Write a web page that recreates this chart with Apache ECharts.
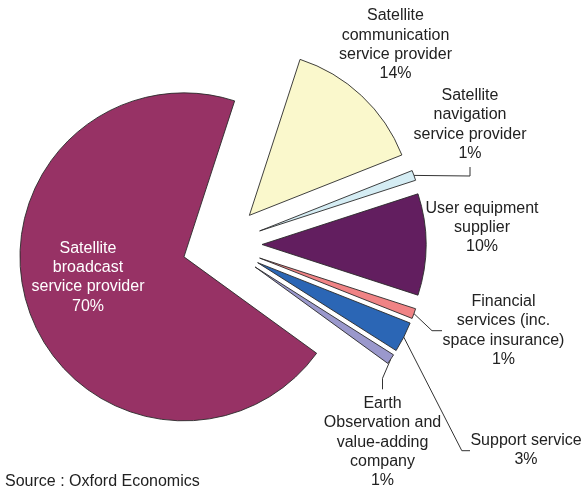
<!DOCTYPE html>
<html>
<head>
<meta charset="utf-8">
<script src="https://cdn.jsdelivr.net/npm/echarts@6/dist/echarts.min.js"></script>
<style>
  html, body { margin: 0; padding: 0; background: #ffffff; }
  #chart { width: 584px; height: 491px; }
</style>
</head>
<body>
<div id="chart"></div>
<script>
// Market segments, clockwise from the top
const sectors = [
  'Satellite\ncommunication\nservice provider',
  'Satellite\nnavigation\nservice provider',
  'User equipment\nsupplier',
  'Financial\nservices (inc.\nspace insurance)',
  'Support service',
  'Earth\nObservation and\nvalue-adding\ncompany',
  'Satellite\nbroadcast\nservice provider'
];
// Share of revenue, %
const shares = [14, 1, 10, 1, 3, 1, 70];

const sliceColors = ['#faf8cc', '#d5edf4', '#621e5f', '#f08385', '#2b66b5', '#9a98cc', '#973265'];

// Centre of each label block (px)
const labelSpots = [[395.5, 44.8], [470, 124.5], [482, 227.5], [503.5, 330.6], [526, 450.4], [382.5, 442.3], [88, 277.4]];
// Leader line elbow + end after leaving the slice edge; null = no leader
const leaderTails = [
  null,
  [[470, 176], [470, 167]],
  null,
  [[432, 330.7], [442, 330.7]],
  [[461.8, 450.7], [470, 450.7]],
  [[382.5, 378.3], [382.5, 389.3]],
  null
];

// Pie geometry
const PIE_CENTER = [222, 244.5];
const PIE_R = 164;
const START_ANGLE = 72;     // degrees, ECharts convention
const EXPLODE = 40;         // every slice is pulled out by this much

const FONT = '"Liberation Sans", Arial, sans-serif';
const total = shares.reduce((a, b) => a + b, 0);

// mid angle (screen radians, clockwise) of each slice
const midAngles = [];
(function () {
  let a = -START_ANGLE * Math.PI / 180;
  shares.forEach(v => {
    const span = v / total * Math.PI * 2;
    midAngles.push(a + span / 2);
    a += span;
  });
})();

function pulledCenter(i) {
  return [PIE_CENTER[0] + EXPLODE * Math.cos(midAngles[i]),
          PIE_CENTER[1] + EXPLODE * Math.sin(midAngles[i])];
}
function outerMid(i) {
  const c = pulledCenter(i);
  return [c[0] + PIE_R * Math.cos(midAngles[i]), c[1] + PIE_R * Math.sin(midAngles[i])];
}

// One pie per slice so each wedge sits at its own pulled-out centre
const series = sectors.map((_, s) => ({
  type: 'pie',
  center: pulledCenter(s),
  radius: [0, PIE_R],
  startAngle: START_ANGLE,
  clockwise: true,
  silent: true,
  avoidLabelOverlap: false,
  emphasis: { disabled: true },
  label: {
    show: false,
    formatter: '{b}\n{c}%',
    fontSize: 16,
    lineHeight: 19.3,
    fontFamily: FONT,
    color: '#222',
    align: 'center'
  },
  labelLine: { show: false, lineStyle: { color: '#333', width: 1 } },
  labelLayout: function (p) {
    const out = { x: labelSpots[s][0], y: labelSpots[s][1], align: 'center', verticalAlign: 'middle' };
    if (leaderTails[s]) out.labelLinePoints = [outerMid(s)].concat(leaderTails[s]);
    return out;
  },
  data: sectors.map((name, i) => {
    const own = i === s;
    return {
      name: name,
      value: shares[i],
      itemStyle: own
        ? { color: sliceColors[i], borderColor: '#2a2a2a', borderWidth: 0.9 }
        : { color: 'rgba(0,0,0,0)', borderWidth: 0 },
      label: own
        ? { show: true, position: i === 6 ? 'inside' : 'outside', color: i === 6 ? '#ffffff' : '#222' }
        : { show: false },
      labelLine: { show: own && !!leaderTails[i] }
    };
  })
}));

const chart = echarts.init(document.getElementById('chart'), null, { renderer: 'canvas' });
chart.setOption({
  animation: false,
  backgroundColor: '#ffffff',
  graphic: [{
    type: 'text',
    left: 5,
    top: 474,
    style: { text: 'Source : Oxford Economics', fontSize: 16, fill: '#222', fontFamily: FONT }
  }],
  series: series
});
</script>
</body>
</html>
